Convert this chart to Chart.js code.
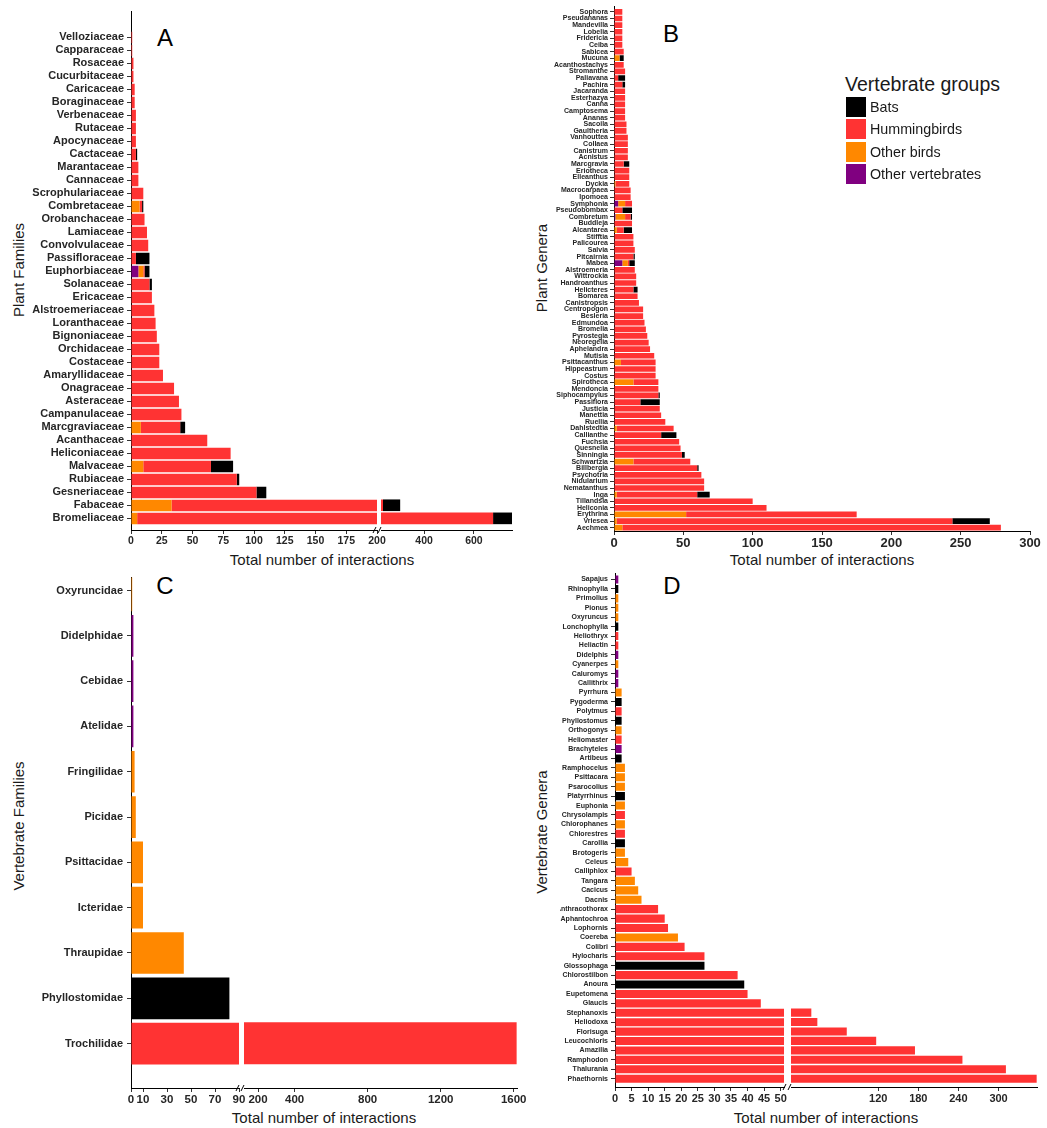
<!DOCTYPE html>
<html>
<head>
<meta charset="utf-8">
<script src="https://cdn.jsdelivr.net/npm/chart.js@4.4.0/dist/chart.umd.min.js"></script>
<style>
  body { margin: 0; background: #fff; }
  #page { position: relative; width: 1047px; height: 1128px; overflow: hidden; background: #fff;
          font-family: "Liberation Sans", Arial, Helvetica, sans-serif; }
  #page canvas { position: absolute; }
  .txt { position: absolute; color: #1a1a1a; white-space: nowrap; line-height: 1; }
  .center { transform: translate(-50%, -50%); }
  .xtitle { font-size: 15px; }
  .ytitle { font-size: 15px; transform: translate(-50%, -50%) rotate(-90deg); }
  .letter { font-size: 24px; color: #000; }
  .key { position: absolute; width: 20px; height: 20px; }
</style>
</head>
<body>
<div id="page">
  <div class="txt xtitle center" style="left:322px; top:559px">Total number of interactions</div>
  <div class="txt xtitle center" style="left:822px; top:559px">Total number of interactions</div>
  <div class="txt xtitle center" style="left:324px; top:1117px">Total number of interactions</div>
  <div class="txt xtitle center" style="left:826px; top:1117px">Total number of interactions</div>
  <div class="txt ytitle" style="left:18px; top:270px">Plant Families</div>
  <div class="txt ytitle" style="left:541px; top:268px">Plant Genera</div>
  <div class="txt ytitle" style="left:18px; top:826px">Vertebrate Families</div>
  <div class="txt ytitle" style="left:541px; top:832px">Vertebrate Genera</div>
  <div class="txt letter center" style="left:165px; top:38px">A</div>
  <div class="txt letter center" style="left:671px; top:34px">B</div>
  <div class="txt letter center" style="left:165px; top:586px">C</div>
  <div class="txt letter center" style="left:672px; top:586px">D</div>
  <div class="txt" style="left:845px; top:85px; font-size:19.5px; transform:translateY(-50%)">Vertebrate groups</div>
</div>
<script>
const groups = ['Bats', 'Hummingbirds', 'Other birds', 'Other vertebrates'];
const groupColors = ['#000000', '#ff3333', '#ff8800', '#800080'];

// Panel A: plant families (stacked by vertebrate group)
const aFamilies = ['Velloziaceae', 'Capparaceae', 'Rosaceae', 'Cucurbitaceae', 'Caricaceae', 'Boraginaceae',
  'Verbenaceae', 'Rutaceae', 'Apocynaceae', 'Cactaceae', 'Marantaceae', 'Cannaceae', 'Scrophulariaceae',
  'Combretaceae', 'Orobanchaceae', 'Lamiaceae', 'Convolvulaceae', 'Passifloraceae', 'Euphorbiaceae',
  'Solanaceae', 'Ericaceae', 'Alstroemeriaceae', 'Loranthaceae', 'Bignoniaceae', 'Orchidaceae', 'Costaceae',
  'Amaryllidaceae', 'Onagraceae', 'Asteraceae', 'Campanulaceae', 'Marcgraviaceae', 'Acanthaceae',
  'Heliconiaceae', 'Malvaceae', 'Rubiaceae', 'Gesneriaceae', 'Fabaceae', 'Bromeliaceae'];
const aBats =       [0,0,0,0,0,0,0,0,0,1, 0,0,0,1,0,0,0,11,4,2, 0,0,0,0,0,0,0,0,0,0, 4,0,0,18,2,8,69,76];
const aHumm =       [1,1,2,2,3,3,4,4,4,4, 6,6,10,2,11,13,14,4,1,15, 17,19,20,21,23,23,26,35,39,41, 32,62,81,55,86,102,202,672];
const aOtherBirds = [0,0,0,0,0,0,0,0,0,0, 0,0,0,7,0,0,0,0,4,0, 0,0,0,0,0,0,0,0,0,0, 8,0,0,10,0,0,33,5];
const aOtherVert =  [0,0,0,0,0,0,0,0,0,0, 0,0,0,0,0,0,0,0,6,0, 0,0,0,0,0,0,0,0,0,0, 0,0,0,0,0,0,0,0];
const aLeftTicks = [0, 25, 50, 75, 100, 125, 150, 175, 200];
const aRightTicks = [400, 600];

// Panel B: plant genera
const bGenera = ['Sophora', 'Pseudananas', 'Mandevilla', 'Lobelia', 'Fridericia', 'Ceiba', 'Sabicea', 'Mucuna',
  'Acanthostachys', 'Stromanthe', 'Paliavana', 'Pachira', 'Jacaranda', 'Esterhazya', 'Canna', 'Camptosema',
  'Ananas', 'Sacoila', 'Gaultheria', 'Vanhouttea', 'Collaea', 'Canistrum', 'Acnistus', 'Marcgravia',
  'Eriotheca', 'Elleanthus', 'Dyckia', 'Macrocarpaea', 'Ipomoea', 'Symphonia', 'Pseudobombax', 'Combretum',
  'Buddleja', 'Alcantarea', 'Stifftia', 'Palicourea', 'Salvia', 'Pitcairnia', 'Mabea', 'Alstroemeria',
  'Wittrockia', 'Handroanthus', 'Helicteres', 'Bomarea', 'Canistropsis', 'Centropogon', 'Besleria',
  'Edmundoa', 'Bromelia', 'Pyrostegia', 'Neoregelia', 'Aphelandra', 'Mutisia', 'Psittacanthus',
  'Hippeastrum', 'Costus', 'Spirotheca', 'Mendoncia', 'Siphocampylus', 'Passiflora', 'Justicia', 'Manettia',
  'Ruellia', 'Dahlstedtia', 'Callianthe', 'Fuchsia', 'Quesnelia', 'Sinningia', 'Schwartzia', 'Billbergia',
  'Psychotria', 'Nidularium', 'Nematanthus', 'Inga', 'Tillandsia', 'Heliconia', 'Erythrina', 'Vriesea', 'Aechmea'];
const bBats = [0,0,0,0,0,0,0,3,0,0, 5,2,0,0,0,0,0,0,0,0, 0,0,0,4,0,0,0,0,0,0, 7,1,0,6,0,0,0,1,4,0,
  0,0,3,0,0,0,0,0,0,0, 0,0,0,0,0,0,0,0,1,14, 0,0,0,0,11,0,0,2,0,1, 0,0,0,9,0,0,0,27,0];
const bHumm = [6,6,6,6,6,6,7,0,7,8, 3,6,8,8,8,8,8,9,9,10, 10,10,10,7,11,11,10,12,12,5,
  6,4,13,5,14,14,15,14,1,15, 16,16,14,17,18,21,21,22,23,24, 25,26,29,25,30,30,18,32,32,19,
  33,34,37,41,34,47,48,49,41,60, 63,65,65,58,100,110,123,242,273];
const bOtherBirds = [0,0,0,0,0,0,0,4,0,0, 0,0,0,0,0,0,0,0,0,0, 0,0,0,0,0,0,1,0,0,5, 0,7,0,2,0,0,0,0,4,0,
  0,0,0,0,0,0,0,0,0,0, 0,0,0,5,0,0,14,0,0,0, 0,0,0,2,0,0,0,0,14,0, 0,0,0,2,0,0,52,2,6];
const bOtherVert = [0,0,0,0,0,0,0,0,0,0, 0,0,0,0,0,0,0,0,0,0, 0,0,0,0,0,0,0,0,0,3, 0,1,0,0,0,0,0,0,6,0,
  0,0,0,0,0,0,0,0,0,0, 0,0,0,0,0,0,0,0,0,0, 0,0,0,0,0,0,0,0,0,0, 0,0,0,0,0,0,0,0,0];
const bTicks = [0, 50, 100, 150, 200, 250, 300];

// Panel C: vertebrate families
const cFamilies = ['Oxyruncidae', 'Didelphidae', 'Cebidae', 'Atelidae', 'Fringilidae', 'Picidae',
  'Psittacidae', 'Icteridae', 'Thraupidae', 'Phyllostomidae', 'Trochilidae'];
const cValues = [1, 2, 2, 2, 3, 4, 10, 10, 44, 82, 1616];
const cGroups = ['Other birds', 'Other vertebrates', 'Other vertebrates', 'Other vertebrates', 'Other birds',
  'Other birds', 'Other birds', 'Other birds', 'Other birds', 'Bats', 'Hummingbirds'];
const cLeftTicks = [0, 10, 30, 50, 70, 90];
const cRightTicks = [200, 400, 800, 1200, 1600];

// Panel D: vertebrate genera
const dGenera = ['Sapajus', 'Rhinophylla', 'Primolius', 'Pionus', 'Oxyruncus', 'Lonchophylla', 'Heliothryx',
  'Heliactin', 'Didelphis', 'Cyanerpes', 'Caluromys', 'Callithrix', 'Pyrrhura', 'Pygoderma', 'Polytmus',
  'Phyllostomus', 'Orthogonys', 'Heliomaster', 'Brachyteles', 'Artibeus', 'Ramphocelus', 'Psittacara',
  'Psarocolius', 'Platyrrhinus', 'Euphonia', 'Chrysolampis', 'Chlorophanes', 'Chlorestres', 'Carollia',
  'Brotogeris', 'Celeus', 'Calliphlox', 'Tangara', 'Cacicus', 'Dacnis', 'Anthracothorax', 'Aphantochroa',
  'Lophornis', 'Coereba', 'Colibri', 'Hylocharis', 'Glossophaga', 'Chlorostilbon', 'Anoura', 'Eupetomena',
  'Glaucis', 'Stephanoxis', 'Heliodoxa', 'Florisuga', 'Leucochloris', 'Amazilia', 'Ramphodon', 'Thalurania',
  'Phaethornis'];
const dValues = [1,1,1,1,1,1,1,1,1,1, 1,1,2,2,2,2,2,2,2,2, 3,3,3,3,3,3,3,3,3,3,
  4,5,6,7,8,13,15,16,19,21, 27,27,37,39,40,44,80,89,133,177, 235,306,371,417];
const dGroups = ['Other vertebrates', 'Bats', 'Other birds', 'Other birds', 'Other birds', 'Bats',
  'Hummingbirds', 'Hummingbirds', 'Other vertebrates', 'Other birds', 'Other vertebrates', 'Other vertebrates',
  'Other birds', 'Bats', 'Hummingbirds', 'Bats', 'Other birds', 'Hummingbirds', 'Other vertebrates', 'Bats',
  'Other birds', 'Other birds', 'Other birds', 'Bats', 'Other birds', 'Hummingbirds', 'Other birds',
  'Hummingbirds', 'Bats', 'Other birds', 'Other birds', 'Hummingbirds', 'Other birds', 'Other birds',
  'Other birds', 'Hummingbirds', 'Hummingbirds', 'Hummingbirds', 'Other birds', 'Hummingbirds',
  'Hummingbirds', 'Bats', 'Hummingbirds', 'Bats', 'Hummingbirds', 'Hummingbirds', 'Hummingbirds',
  'Hummingbirds', 'Hummingbirds', 'Hummingbirds', 'Hummingbirds', 'Hummingbirds', 'Hummingbirds',
  'Hummingbirds'];
const dLeftTicks = [0, 5, 10, 15, 20, 25, 30, 35, 40, 45, 50];
// the upper segment of the broken axis is labelled as printed in the figure
const dRightTickValues = [180, 240, 300, 360];
const dRightTickLabels = ['120', '180', '240', '300'];

const FONT = '"Liberation Sans", Arial, Helvetica, sans-serif';
const page = document.getElementById('page');

function byGroup(values, groupOf) {
  return groups.map(g => values.map((v, i) => groupOf[i] === g ? v : 0));
}

// small "//" marks where an axis is broken
const breakMark = {
  id: 'breakMark',
  afterDraw(chart) {
    const { ctx, chartArea: ca } = chart;
    ctx.save();
    ctx.strokeStyle = '#000';
    ctx.lineWidth = 1;
    [ca.left - 8, ca.left - 3].forEach(x => {
      ctx.beginPath();
      ctx.moveTo(x, ca.bottom + 3);
      ctx.lineTo(x + 3, ca.bottom - 3);
      ctx.stroke();
    });
    ctx.restore();
  }
};

function segment(o) {
  const a = o.area;
  const ct = a.t - 6, cb = a.b + 22;
  const canvas = document.createElement('canvas');
  canvas.width = o.cr - o.cl;
  canvas.height = cb - ct;
  canvas.style.left = o.cl + 'px';
  canvas.style.top = ct + 'px';
  page.appendChild(canvas);

  // stack order left to right: other vertebrates, other birds, hummingbirds, bats
  const datasets = [3, 2, 1, 0].map(g => ({
    label: groups[g],
    data: o.series[g].map((v, i) => ({ x: v > 0 ? v : null, y: i })),
    backgroundColor: groupColors[g],
    borderWidth: 0,
    stack: 'g',
    clip: 0,
    barPercentage: o.barPct,
    categoryPercentage: 1
  }));
  const labels = o.xLabels || o.xTicks.map(String);

  new Chart(canvas, {
    type: 'bar',
    data: { datasets },
    plugins: o.brk ? [breakMark] : [],
    options: {
      indexAxis: 'y',
      responsive: false,
      animation: false,
      events: [],
      devicePixelRatio: 1,
      layout: { padding: { top: a.t - ct, right: o.cr - a.r, left: o.showY ? 0 : a.l - o.cl, bottom: 0 } },
      plugins: { legend: { display: false }, tooltip: { enabled: false } },
      scales: {
        x: {
          type: 'linear', stacked: true, bounds: 'data', offset: false,
          min: o.xMin, max: o.xMax,
          afterBuildTicks: s => { s.ticks = o.xTicks.map(v => ({ value: v })); },
          afterFit: s => { s.height = cb - a.b; },
          ticks: {
            autoSkip: false, maxRotation: 0, padding: 1, color: '#262626',
            font: { family: FONT, size: o.tickFont, weight: 'bold' },
            callback: (v, i) => labels[i]
          },
          grid: { drawOnChartArea: false, offset: false, tickLength: 4, color: '#333' },
          border: { display: true, color: '#000', width: 1 }
        },
        y: {
          type: 'linear', reverse: true, bounds: 'data', offset: false,
          display: o.showY,
          min: o.yMin, max: o.yMax,
          afterBuildTicks: s => { s.ticks = o.cats.map((c, i) => ({ value: i })); },
          afterFit: s => { if (o.showY) s.width = a.l - o.cl; },
          ticks: {
            autoSkip: false, padding: o.yPad, color: '#262626',
            font: { family: FONT, size: o.catFont, weight: 'bold' },
            callback: v => o.cats[v]
          },
          grid: { drawOnChartArea: false, offset: false, tickLength: 4, color: '#333' },
          border: { display: true, color: '#000', width: 1 }
        }
      }
    }
  });
}

const aSeries = [aBats, aHumm, aOtherBirds, aOtherVert];
const bSeries = [bBats, bHumm, bOtherBirds, bOtherVert];
const cSeries = byGroup(cValues, cGroups);
const dSeries = byGroup(dValues, dGroups);

// Panel A (broken axis: two segments)
const aBase = { cats: aFamilies, series: aSeries, yMin: -1.99, yMax: 37.89, tickFont: 10.5, catFont: 11, barPct: 0.89, yPad: 3 };
segment(Object.assign({}, aBase, { area: { l: 131, t: 8, r: 377, b: 530 }, cl: 0, cr: 389, showY: true,
  xMin: 0, xMax: 200, xTicks: aLeftTicks }));
segment(Object.assign({}, aBase, { area: { l: 381, t: 8, r: 512, b: 530 }, cl: 371, cr: 524, showY: false,
  xMin: 227, xMax: 753, xTicks: aRightTicks, brk: true }));

// Panel B
segment({ cats: bGenera, series: bSeries, yMin: -0.86, yMax: 78.5, tickFont: 13, catFont: 7, barPct: 0.86, yPad: 2,
  area: { l: 614, t: 6, r: 1030, b: 531 }, cl: 546, cr: 1047, showY: true, xMin: 0, xMax: 300, xTicks: bTicks });

// Panel C (broken axis)
const cBase = { cats: cFamilies, series: cSeries, yMin: -0.284, yMax: 10.98, tickFont: 11.5, catFont: 11, barPct: 0.92, yPad: 4 };
segment(Object.assign({}, cBase, { area: { l: 131, t: 573, r: 239, b: 1088 }, cl: 0, cr: 251, showY: true,
  xMin: 0, xMax: 90, xTicks: cLeftTicks }));
segment(Object.assign({}, cBase, { area: { l: 244, t: 573, r: 517, b: 1088 }, cl: 234, cr: 530, showY: false,
  xMin: 123, xMax: 1618, xTicks: cRightTicks, brk: true }));

// Panel D (broken axis)
const dBase = { cats: dGenera, series: dSeries, yMin: -0.67, yMax: 53.88, tickFont: 11, catFont: 7, barPct: 0.86, yPad: 3 };
segment(Object.assign({}, dBase, { area: { l: 615, t: 572, r: 784, b: 1087 }, cl: 560, cr: 792, showY: true,
  xMin: 0, xMax: 51, xTicks: dLeftTicks }));
segment(Object.assign({}, dBase, { area: { l: 791, t: 572, r: 1037, b: 1087 }, cl: 781, cr: 1047, showY: false,
  xMin: 49.6, xMax: 417.5, xTicks: dRightTickValues, xLabels: dRightTickLabels, brk: true }));

// legend (Bats, Hummingbirds, Other birds, Other vertebrates)
groups.forEach((g, i) => {
  const top = 97 + i * 22.3;
  const key = document.createElement('div');
  key.className = 'key';
  key.style.left = '846px';
  key.style.top = top + 'px';
  key.style.background = groupColors[i];
  page.appendChild(key);
  const t = document.createElement('div');
  t.className = 'txt';
  t.style.left = '870px';
  t.style.top = (top + 10) + 'px';
  t.style.fontSize = '14.3px';
  t.style.transform = 'translateY(-50%)';
  t.textContent = g;
  page.appendChild(t);
});
</script>
</body>
</html>
